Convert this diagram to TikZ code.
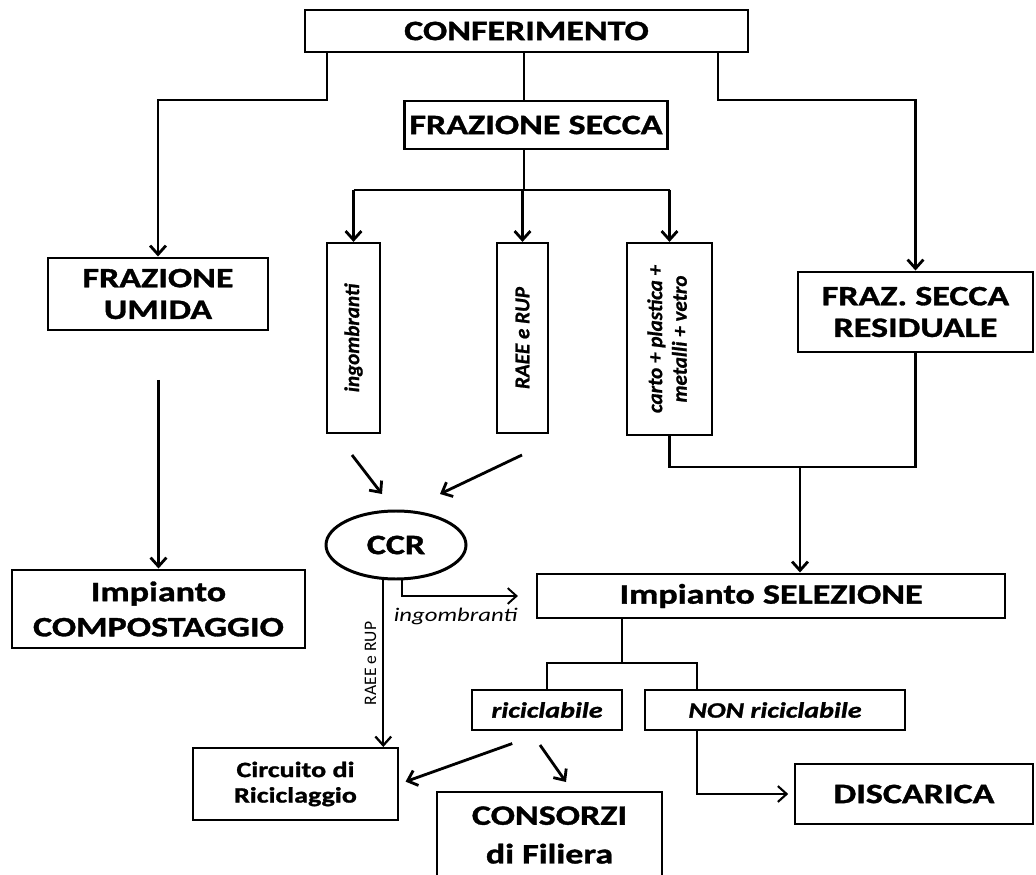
\documentclass[tikz,border=0pt]{standalone}
\usepackage{fontspec}
\usepackage{graphicx}
\setmainfont[FakeStretch=1.28, BoldFeatures={FakeBold=1.2}, BoldItalicFeatures={FakeBold=1.2}]{Carlito}
\newfontfamily\condfont[BoldFeatures={FakeBold=1}, BoldItalicFeatures={FakeBold=1}]{Carlito}
\usetikzlibrary{shapes.geometric,arrows.meta}
\newcommand\bigfont{\bfseries\fontsize{16}{18}\selectfont}
\newcommand\midfont{\bfseries\fontsize{12.5}{14.5}\selectfont}
\newcommand\tagfont{\bfseries\itshape\fontsize{12.5}{14}\selectfont}
\newcommand\tallfont{\condfont\bfseries\itshape\fontsize{12}{14}\selectfont}
\tikzset{x=0.02cm, y=-0.02cm,
         box/.style={draw, line width=1.7pt, align=center, inner sep=2pt, font=\bigfont},
         tall/.style={draw, line width=1.2pt, inner sep=0pt, font=\tallfont},
         wh/.style 2 args={minimum width=#1*0.02cm, minimum height=#2*0.02cm},
         conn/.style={line width=1.6pt},
         flow/.style={conn, -{Straight Barb[length=5pt,width=9pt]}}}

\begin{document}
\begin{tikzpicture}
	\useasboundingbox (0,0) rectangle (1036,875);
	\node[box, wh={443}{42}] (conf) at (526.5,31) {CONFERIMENTO};
	\node[box, wh={263}{48}] (secca) at (536,125) {FRAZIONE SECCA};
	\node[box, wh={220}{72}] (umida) at (158,294) {FRAZIONE\\UMIDA};
	\node[box, wh={235}{80}] (resid) at (915.5,312) {FRAZ. SECCA\\RESIDUALE};
	\node[tall, wh={53}{190}] (ingo) at (353.5,338) {\rotatebox{90}{ingombranti}};
	\node[tall, wh={51}{190}] (raee) at (522.5,338) {\rotatebox{90}{RAEE e RUP}};
	\node[tall, wh={85}{192}] (carto) at (669.5,339)
		{\rotatebox{90}{\begin{tabular}{@{}c@{}}carto + plastica +\\metalli + vetro\end{tabular}}};
	\node[ellipse, draw, line width=1.7pt, inner sep=0pt, wh={140}{68}, font=\bigfont] (ccr) at (396,545) {CCR};
	\node[box, wh={468}{44}] (sel) at (771,596) {Impianto SELEZIONE};
	\node[box, wh={293}{78}, font=\bfseries\fontsize{16}{20}\selectfont] (comp) at (158.5,609) {Impianto\\COMPOSTAGGIO};
	\node[box, line width=1.3pt, wh={150}{40}, font=\tagfont] (ric) at (547,710) {riciclabile};
	\node[box, line width=1.3pt, wh={260}{40}, font=\tagfont] (nonric) at (775,710) {NON riciclabile};
	\node[box, line width=1.1pt, wh={205}{72}, font=\midfont] (circ) at (295.5,784) {Circuito di\\Riciclaggio};
	\node[box, wh={225}{86}, font=\bfseries\fontsize{16}{22}\selectfont] (cons) at (549.5,835) {CONSORZI\\di Filiera};
	\node[box, wh={238}{60}] (disc) at (914,794) {DISCARICA};

	\coordinate (cl) at (327,100);
	\coordinate (cr) at (718,100);
	\coordinate (sj) at (524,190);
	\coordinate (mj) at (800,467);
	\coordinate (bj) at (622,663);
	\coordinate (br) at (697,663);
	\coordinate (ua) at (160,380);
	\coordinate (ia) at (352,455);
	\coordinate (ib) at (382,494);
	\coordinate (ra) at (522,455);
	\coordinate (rb) at (440,494);
	\coordinate (ka) at (540,745);
	\coordinate (kb) at (566,782);

	\draw[flow] (conf.south -| cl) -- (cl) -| (umida.north);
	\draw[flow] (conf.south -| cr) -- (cr) -| (resid.north);
	\draw[conn] (conf.south -| sj) -- (secca.north -| sj);
	\draw[conn] (secca.south -| sj) -- (sj);
	\draw[conn] (ingo.north |- sj) -- (carto.north |- sj);
	\foreach \n in {ingo,raee,carto}
		\draw[flow] (\n.north |- sj) -- (\n.north);
	\draw[flow] (comp.north |- ua) -- (comp.north);
	\draw[flow] (ia) -- (ib);
	\draw[flow] (ra) -- (rb);
	\draw[conn] (carto.south) |- (mj) -| (resid.south);
	\draw[flow] (mj) -- (sel.north -| mj);
	\draw[flow, line width=1.1pt, shorten >=10pt] (ccr.-80) |-
		node[pos=0.7, below=3pt, font=\itshape\fontsize{11}{13}\selectfont] {ingombranti} (sel.west);
	\draw[flow, line width=1.3pt] (ccr.-110) --
		node[pos=0.5, rotate=90, anchor=south, font=\condfont\fontsize{10}{12}\selectfont] {RAEE e RUP} (ccr.-110 |- circ.north);
	\draw[conn, line width=1.2pt] (sel.south -| bj) -- (bj);
	\draw[conn, line width=1.2pt] (ric.north) |- (br) -- (nonric.north -| br);
	\draw[flow, line width=1.2pt, shorten >=3pt] (nonric.south -| br) |- (disc.west);
	\draw[flow, shorten <=21pt, shorten >=4pt] (ric.south) -- (circ.east);
	\draw[flow] (ka) -- (kb);
\end{tikzpicture}
\end{document}
